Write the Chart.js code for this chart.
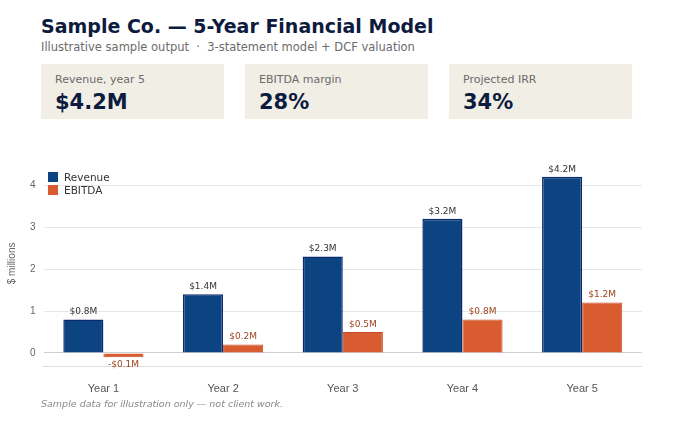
<!DOCTYPE html>
<html><head><meta charset="utf-8">
<script src="https://cdn.jsdelivr.net/npm/chart.js@4"></script>
<style>
body{margin:0;background:#fff;font-family:"DejaVu Sans",sans-serif;width:680px;height:425px;position:relative;overflow:hidden}
h1{position:absolute;left:41px;top:15px;margin:0;font-size:19px;color:#0d1b3e;font-weight:bold}
.sub{position:absolute;left:41px;top:40px;font-size:11.5px;color:#6b6b6b}
.card{position:absolute;top:64px;width:183px;height:55px;background:#f1eee6}
.card .l{position:absolute;left:14px;top:9px;font-size:11px;color:#6b6b6b}
.card .v{position:absolute;left:14px;top:26px;font-size:21px;font-weight:bold;color:#0d1b3e}
.leg{position:absolute;left:48px;font-size:10.5px;color:#333}
.leg i{display:inline-block;width:10px;height:10px;margin-right:6px;vertical-align:-1px}
.foot{position:absolute;left:41px;top:398px;font-size:9.5px;font-style:italic;color:#888}
#wrap{position:absolute;left:2px;top:146px;width:640px;height:258px}
</style></head><body>
<h1>Sample Co. — 5-Year Financial Model</h1>
<div class="sub">Illustrative sample output &nbsp;·&nbsp; 3-statement model + DCF valuation</div>
<div class="card" style="left:41px"><div class="l">Revenue, year 5</div><div class="v">$4.2M</div></div>
<div class="card" style="left:245px"><div class="l">EBITDA margin</div><div class="v">28%</div></div>
<div class="card" style="left:449px"><div class="l">Projected IRR</div><div class="v">34%</div></div>
<div id="wrap"><canvas id="c"></canvas></div>
<div class="leg" style="top:171px"><i style="background:#0b4480"></i>Revenue</div>
<div class="leg" style="top:184px"><i style="background:#d95b30"></i>EBITDA</div>
<div class="foot">Sample data for illustration only — not client work.</div>
<script>
const years = ['Year 1', 'Year 2', 'Year 3', 'Year 4', 'Year 5'];
const revenue = [0.8, 1.4, 2.3, 3.2, 4.2];
const ebitda = [-0.1, 0.2, 0.5, 0.8, 1.2];
const yTicks = [0, 1, 2, 3, 4];

// value labels above/below bars
const labelPlugin = {
    id: 'labels',
    afterDatasetsDraw(chart) {
        const ctx = chart.ctx;
        ctx.save();
        ctx.font = '9px "DejaVu Sans"';
        ctx.textAlign = 'center';
        chart.data.datasets.forEach((ds, i) => {
            ctx.fillStyle = i === 0 ? '#333' : '#a0431f';
            chart.getDatasetMeta(i).data.forEach((bar, j) => {
                const v = ds.data[j];
                const txt = (v < 0 ? '-$' : '$') + Math.abs(v).toFixed(1) + 'M';
                if (v >= 0) { ctx.textBaseline = 'bottom'; ctx.fillText(txt, bar.x, bar.y - 3); }
                else { ctx.textBaseline = 'top'; ctx.fillText(txt, bar.x, bar.y + 3); }
            });
        });
        ctx.restore();
    }
};

new Chart(document.getElementById('c'), {
    type: 'bar',
    data: {
        labels: years,
        datasets: [
            { label: 'Revenue', data: revenue, backgroundColor: '#0b4480', borderColor: '#0a2a6e', borderWidth: 1.5 },
            { label: 'EBITDA', data: ebitda, backgroundColor: '#d95b30', borderColor: '#c44e24', borderWidth: 1 }
        ]
    },
    options: {
        responsive: true, maintainAspectRatio: false, animation: false,
        layout: { padding: { top: 8 } },
        datasets: { bar: { categoryPercentage: 0.67, barPercentage: 1.0 } },
        scales: {
            y: {
                min: -0.33, max: 4.6,
                afterBuildTicks: s => { s.ticks = yTicks.map(v => ({ value: v })); },
                grid: { color: c => c.tick && c.tick.value === 0 ? '#d0d0d0' : '#e6e6e6', drawTicks: false },
                border: { display: false },
                ticks: { color: '#666', font: { size: 10 }, padding: 8 },
                title: { display: true, text: '$ millions', color: '#666', font: { size: 10 } }
            },
            x: {
                grid: { display: false },
                border: { color: '#ddd' },
                ticks: { color: '#555', font: { size: 11 }, padding: 8 }
            }
        },
        plugins: { legend: { display: false }, tooltip: { enabled: false } }
    },
    plugins: [labelPlugin]
});
</script>
</body></html>
